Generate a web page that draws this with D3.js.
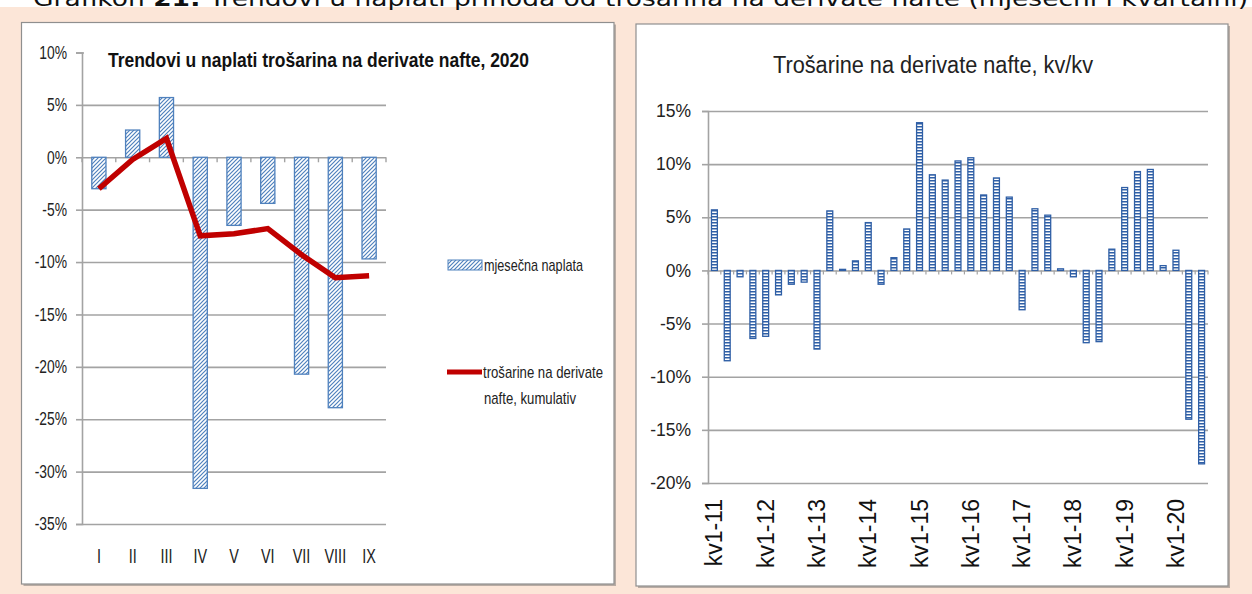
<!DOCTYPE html>
<html>
<head>
<meta charset="utf-8">
<script src="https://cdn.jsdelivr.net/npm/d3@7"></script>
<style>
  html, body { margin: 0; padding: 0; background: #fff; }
  svg { display: block; }
</style>
</head>
<body>
<svg id="chart"></svg>
<script>
// ---- data ----
const months = ["I", "II", "III", "IV", "V", "VI", "VII", "VIII", "IX"];
const monthly = [-3.0, 2.6, 5.7, -31.6, -6.5, -4.4, -20.7, -23.9, -9.7];   // mjesečna naplata
const cumulative = [-3.0, -0.2, 1.8, -7.5, -7.3, -6.8, -9.3, -11.5, -11.3]; // kumulativ

const quarters = [
  "kv1-11", "kv2-11", "kv3-11", "kv4-11",
  "kv1-12", "kv2-12", "kv3-12", "kv4-12",
  "kv1-13", "kv2-13", "kv3-13", "kv4-13",
  "kv1-14", "kv2-14", "kv3-14", "kv4-14",
  "kv1-15", "kv2-15", "kv3-15", "kv4-15",
  "kv1-16", "kv2-16", "kv3-16", "kv4-16",
  "kv1-17", "kv2-17", "kv3-17", "kv4-17",
  "kv1-18", "kv2-18", "kv3-18", "kv4-18",
  "kv1-19", "kv2-19", "kv3-19", "kv4-19",
  "kv1-20", "kv2-20", "kv3-20"
];
const qoq = [
  5.7, -8.5, -0.6, -6.4,
  -6.2, -2.3, -1.3, -1.1,
  -7.4, 5.6, 0.1, 0.9,
  4.5, -1.3, 1.2, 3.9,
  13.9, 9.0, 8.5, 10.3,
  10.6, 7.1, 8.7, 6.9,
  -3.7, 5.8, 5.2, 0.15,
  -0.6, -6.8, -6.7, 2.0,
  7.8, 9.3, 9.5, 0.45,
  1.9, -14.0, -18.2
];

const leftTicks = [-35, -30, -25, -20, -15, -10, -5, 0, 5, 10];
const rightTicks = [-20, -15, -10, -5, 0, 5, 10, 15];

const captionA = "Grafikon ";
const captionB = "21:";
const captionC = " Trendovi u naplati prihoda od trošarina na derivate nafte (mjesečni i kvartalni)";
const leftTitle = "Trendovi u naplati trošarina na derivate nafte, 2020";
const rightTitle = "Trošarine na derivate nafte, kv/kv";
const legendBars = "mjesečna naplata";
const legendLine = ["trošarine na derivate", "nafte, kumulativ"];

// ---- setup ----
const W = 1252, H = 594;
const sans = '"Liberation Sans", Arial, sans-serif';
const gridCol = "#a3a3a3";

const svg = d3.select("#chart").attr("width", W).attr("height", H);

const defs = svg.append("defs");
const hatch = defs.append("pattern")
  .attr("id", "hatch").attr("patternUnits", "userSpaceOnUse")
  .attr("width", 4).attr("height", 4);
hatch.append("rect").attr("width", 4).attr("height", 4).attr("fill", "#fff");
hatch.append("path")
  .attr("d", "M-1,1 l2,-2 M0,4 l4,-4 M3,5 l2,-2")
  .attr("stroke", "#4f81bd").attr("stroke-width", 1.2);

const ladder = defs.append("pattern")
  .attr("id", "ladder").attr("patternUnits", "userSpaceOnUse")
  .attr("width", 8).attr("height", 3);
ladder.append("rect").attr("width", 8).attr("height", 3).attr("fill", "#ffffff");
ladder.append("rect").attr("y", 0).attr("width", 8).attr("height", 1.5).attr("fill", "#2f5fa6");

// background
svg.append("rect").attr("width", W).attr("height", H).attr("fill", "#fce6d8");
svg.append("rect").attr("width", W).attr("height", 7).attr("fill", "#fff");

// caption, mostly cut off at the top as in the source
const cap = svg.append("text")
  .attr("x", 33).attr("y", 6)
  .attr("font-family", '"DejaVu Sans", Verdana, sans-serif')
  .attr("font-size", 22).attr("fill", "#111")
  .attr("textLength", 1215).attr("lengthAdjust", "spacingAndGlyphs");
cap.append("tspan").text(captionA);
cap.append("tspan").attr("font-weight", "bold").text(captionB);
cap.append("tspan").text(captionC);

function panel(x0, y0, x1, y1) {
  svg.append("rect")
    .attr("x", x0 + 2).attr("y", y0 + 2).attr("width", x1 - x0).attr("height", y1 - y0)
    .attr("fill", "#b9aca4");
  svg.append("rect")
    .attr("x", x0).attr("y", y0).attr("width", x1 - x0).attr("height", y1 - y0)
    .attr("fill", "#fff").attr("stroke", "#8f8f8f").attr("stroke-width", 1.2);
}
panel(21.5, 22.5, 614, 584);
panel(636, 24, 1228, 586);

function fitText(sel, w) {
  sel.attr("textLength", w).attr("lengthAdjust", "spacingAndGlyphs");
  return sel;
}
// no narrow font installed: squeeze the glyphs horizontally
function condense(sel, f) {
  sel.each(function () {
    const w = this.getComputedTextLength();
    d3.select(this).attr("textLength", w * f).attr("lengthAdjust", "spacingAndGlyphs");
  });
  return sel;
}

// ---- left chart ----
const yL = d3.scaleLinear().domain([-35, 10]).range([524, 52.5]);
const xL = d3.scaleBand().domain(months).range([82, 386]);
const gL = svg.append("g");

gL.append("g")
  .attr("transform", "translate(82,0)")
  .call(d3.axisLeft(yL).tickValues(leftTicks).tickSize(-(386 - 82)).tickFormat(""))
  .call(g => g.select(".domain").remove())
  .call(g => g.selectAll("line").attr("stroke", gridCol).attr("stroke-width", 1.6));

// white box behind the title hides the top gridline
gL.append("rect").attr("x", 84).attr("y", 48).attr("width", 450).attr("height", 24).attr("fill", "#fff");

gL.append("g")
  .attr("transform", "translate(82,0)")
  .call(d3.axisLeft(yL).tickValues(leftTicks).tickSize(6).tickPadding(9).tickFormat(d => d + "%"))
  .call(g => g.select(".domain").attr("stroke", gridCol).attr("stroke-width", 1.6))
  .call(g => g.selectAll("line").attr("stroke", gridCol).attr("stroke-width", 1.6))
  .call(g => condense(g.selectAll("text").attr("font-family", sans).attr("font-size", 18).attr("fill", "#222"), 0.77));

// category ticks on the zero line
gL.append("g").selectAll("line")
  .data(months.map(m => xL(m)).concat([xL.range()[1]]))
  .join("line")
  .attr("x1", d => d).attr("x2", d => d)
  .attr("y1", yL(0)).attr("y2", yL(0) + 5)
  .attr("stroke", gridCol).attr("stroke-width", 1.4);

condense(gL.append("g").selectAll("text")
  .data(months)
  .join("text")
  .attr("x", d => xL(d) + xL.bandwidth() / 2)
  .attr("y", 556)
  .attr("dy", "0.35em")
  .attr("text-anchor", "middle")
  .attr("font-family", sans).attr("font-size", 20).attr("fill", "#222")
  .text(d => d), 0.72);

const barWL = xL.bandwidth() * 0.42;
gL.append("g").selectAll("rect")
  .data(monthly)
  .join("rect")
  .attr("x", (d, i) => xL(months[i]) + xL.bandwidth() / 2 - barWL / 2)
  .attr("y", d => yL(Math.max(0, d)))
  .attr("width", barWL)
  .attr("height", d => Math.abs(yL(d) - yL(0)))
  .attr("fill", "url(#hatch)")
  .attr("stroke", "#4f81bd").attr("stroke-width", 1.3);

const line = d3.line()
  .x((d, i) => xL(months[i]) + xL.bandwidth() / 2)
  .y(d => yL(d));
gL.append("path")
  .datum(cumulative)
  .attr("d", line)
  .attr("fill", "none")
  .attr("stroke", "#c00000").attr("stroke-width", 5.5)
  .attr("stroke-linejoin", "miter");

fitText(gL.append("text")
  .attr("x", 108).attr("y", 67)
  .attr("font-family", sans).attr("font-weight", "bold").attr("font-size", 20).attr("fill", "#111")
  .text(leftTitle), 421);

// legend
gL.append("rect")
  .attr("x", 448).attr("y", 260).attr("width", 34).attr("height", 10)
  .attr("fill", "url(#hatch)").attr("stroke", "#4f81bd").attr("stroke-width", 1);
fitText(gL.append("text")
  .attr("x", 484).attr("y", 265).attr("dy", "0.35em")
  .attr("font-family", sans).attr("font-size", 17).attr("fill", "#222")
  .text(legendBars), 99);

gL.append("line")
  .attr("x1", 447).attr("x2", 482).attr("y1", 372).attr("y2", 372)
  .attr("stroke", "#c00000").attr("stroke-width", 5);
fitText(gL.append("text")
  .attr("x", 483).attr("y", 372).attr("dy", "0.35em")
  .attr("font-family", sans).attr("font-size", 17).attr("fill", "#222")
  .text(legendLine[0]), 120);
fitText(gL.append("text")
  .attr("x", 484).attr("y", 398).attr("dy", "0.35em")
  .attr("font-family", sans).attr("font-size", 17).attr("fill", "#222")
  .text(legendLine[1]), 92);

// ---- right chart ----
const yR = d3.scaleLinear().domain([-20, 15]).range([483, 111]);
const xR = d3.scaleBand().domain(quarters).range([708, 1208]);
const gR = svg.append("g");

gR.append("g")
  .attr("transform", "translate(708,0)")
  .call(d3.axisLeft(yR).tickValues(rightTicks).tickSize(-(1208 - 708)).tickFormat(""))
  .call(g => g.select(".domain").remove())
  .call(g => g.selectAll("line").attr("stroke", gridCol).attr("stroke-width", 1.6));

gR.append("g")
  .attr("transform", "translate(708,0)")
  .call(d3.axisLeft(yR).tickValues(rightTicks).tickSize(6).tickPadding(11).tickFormat(d => d + "%"))
  .call(g => g.select(".domain").attr("stroke", gridCol).attr("stroke-width", 1.6))
  .call(g => g.selectAll("line").attr("stroke", gridCol).attr("stroke-width", 1.6))
  .call(g => g.selectAll("text").attr("font-family", sans).attr("font-size", 17.5).attr("fill", "#222"));

gR.append("g").selectAll("line")
  .data(quarters.map(q => xR(q)).concat([xR.range()[1]]))
  .join("line")
  .attr("x1", d => d).attr("x2", d => d)
  .attr("y1", yR(0)).attr("y2", yR(0) + 4)
  .attr("stroke", gridCol).attr("stroke-width", 1.2);

const barWR = xR.bandwidth() * 0.46;
gR.append("g").selectAll("rect")
  .data(qoq)
  .join("rect")
  .attr("x", (d, i) => xR(quarters[i]) + xR.bandwidth() / 2 - barWR / 2)
  .attr("y", d => yR(Math.max(0, d)))
  .attr("width", barWR)
  .attr("height", d => Math.max(1, Math.abs(yR(d) - yR(0))))
  .attr("fill", "url(#ladder)")
  .attr("stroke", "#2f5fa6").attr("stroke-width", 1.3);

gR.append("g").selectAll("text")
  .data(quarters.filter(q => q.startsWith("kv1")))
  .join("text")
  .attr("transform", d => `translate(${xR(d) + xR.bandwidth() / 2},499) rotate(-90)`)
  .attr("text-anchor", "end")
  .attr("dy", "0.35em")
  .attr("font-family", sans).attr("font-size", 23).attr("fill", "#111")
  .text(d => d);

fitText(gR.append("text")
  .attr("x", 773).attr("y", 65).attr("dy", "0.35em")
  .attr("font-family", sans).attr("font-size", 23).attr("fill", "#222")
  .text(rightTitle), 320);
</script>
</body>
</html>
